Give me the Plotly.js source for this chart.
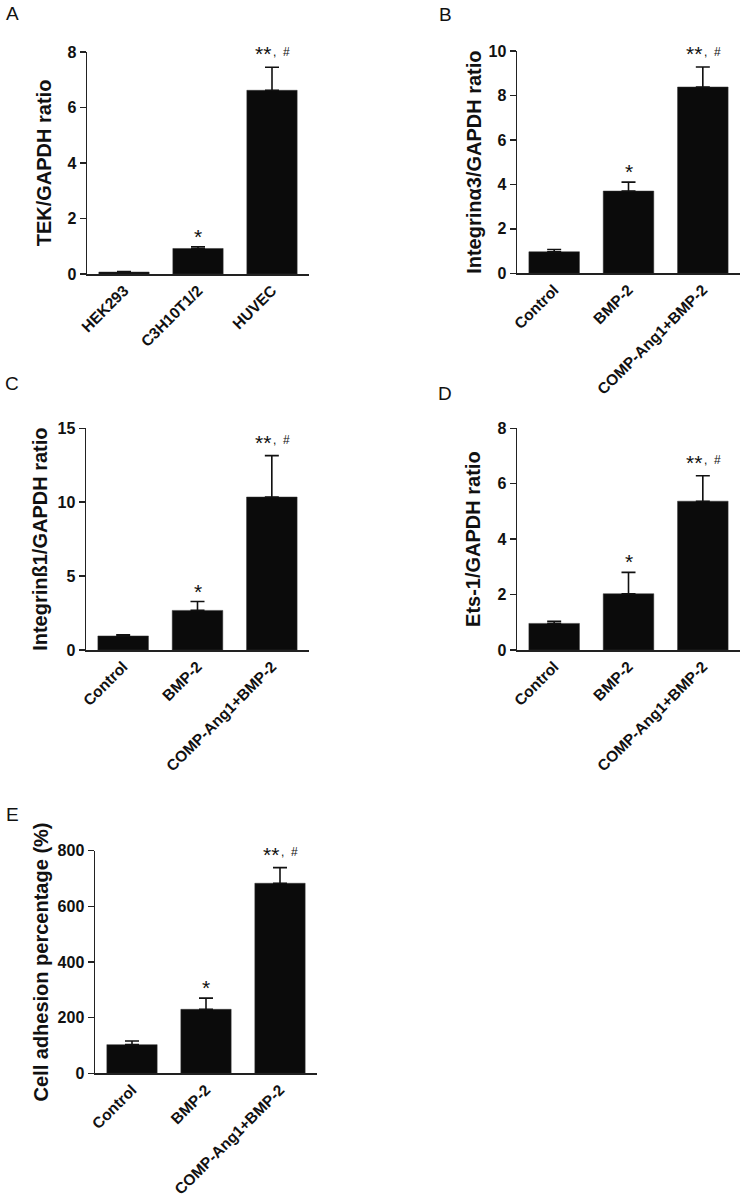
<!DOCTYPE html>
<html><head><meta charset="utf-8">
<script src="https://cdn.plot.ly/plotly-3.0.1.min.js"></script>
<style>html,body{margin:0;padding:0;background:#fff}</style>
</head><body><div id="chart" style="width:745px;height:1198px"></div>
<script>
// ---- data ----
const catsCells = ['HEK293', 'C3H10T1/2', 'HUVEC'];
const catsTreat = ['Control', 'BMP-2', 'COMP-Ang1+BMP-2'];
const tekMean = [0.07, 0.92, 6.62];
const tekErr = [0.02, 0.06, 0.83];
const itga3Mean = [0.97, 3.70, 8.38];
const itga3Err = [0.10, 0.40, 0.90];
const itgb1Mean = [0.95, 2.68, 10.35];
const itgb1Err = [0.08, 0.60, 2.80];
const ets1Mean = [0.96, 2.03, 5.37];
const ets1Err = [0.08, 0.77, 0.92];
const adhMean = [103, 230, 683];
const adhErr = [13, 40, 56];
const sigMain = ['', '*', '**'];
const sigExtra = ['', '', ',\u00a0\u00a0#'];
const panelLetters = ['A', 'B', 'C', 'D', 'E'];
const yTitles = ['TEK/GAPDH ratio', 'Integrinα3/GAPDH ratio', 'Integrinß1/GAPDH ratio', 'Ets-1/GAPDH ratio', 'Cell adhesion percentage (%)'];
const yMax = [8, 10, 15, 8, 800];
const yDtick = [2, 2, 5, 2, 200];

// ---- layout geometry (pixels) ----
const W = 745, H = 1198;
const panels = [
  {cats: catsCells, mean: tekMean, err: tekErr, px: [87, 309], py: [52, 274], letter: [12, 14], standoff: 10},
  {cats: catsTreat, mean: itga3Mean, err: itga3Err, px: [517, 740], py: [51, 273.3], letter: [445, 15], standoff: 1},
  {cats: catsTreat, mean: itgb1Mean, err: itgb1Err, px: [86, 309], py: [428.3, 650], letter: [12, 383], standoff: 4},
  {cats: catsTreat, mean: ets1Mean, err: ets1Err, px: [517, 740], py: [428.3, 650], letter: [445, 393], standoff: 11},
  {cats: catsTreat, mean: adhMean, err: adhErr, px: [95, 317], py: [850.7, 1073.3], letter: [12, 815], standoff: 3}
];

const FONT = 'Liberation Sans, Arial, Helvetica, sans-serif';
const data = [];
const layout = {
  width: W, height: H,
  margin: {l: 0, r: 0, t: 0, b: 0},
  paper_bgcolor: '#fff', plot_bgcolor: '#fff',
  showlegend: false,
  font: {family: FONT, color: '#111'},
  annotations: []
};

panels.forEach((p, i) => {
  const n = i + 1;
  const xa = n === 1 ? 'x' : 'x' + n;
  const ya = n === 1 ? 'y' : 'y' + n;
  data.push({
    type: 'bar', x: p.cats, y: p.mean, xaxis: xa, yaxis: ya,
    width: 0.68,
    marker: {color: '#0b0b0b', line: {color: '#333', width: 0.5}},
    error_y: {type: 'data', symmetric: false, array: p.err, arrayminus: p.err.map(() => 0),
      color: '#111', thickness: 1.6, width: 7},
    hoverinfo: 'skip'
  });
  const xk = n === 1 ? 'xaxis' : 'xaxis' + n;
  const yk = n === 1 ? 'yaxis' : 'yaxis' + n;
  layout[xk] = {
    domain: [p.px[0] / W, p.px[1] / W], anchor: ya,
    range: [-0.5, 2.5], showline: true, linecolor: '#222', linewidth: 1.5,
    ticks: '', tickangle: -45, showgrid: false, zeroline: false,
    tickfont: {family: FONT, size: 15.5, weight: 700, color: '#111'}
  };
  layout[yk] = {
    domain: [1 - p.py[1] / H, 1 - p.py[0] / H], anchor: xa,
    range: [0, yMax[i]], dtick: yDtick[i], showline: true, linecolor: '#222', linewidth: 1.5,
    ticks: 'outside', ticklen: 6, tickwidth: 1.5, tickcolor: '#222',
    showgrid: false, zeroline: false,
    tickfont: {family: FONT, size: 16, weight: 700, color: '#111'},
    title: {text: yTitles[i], standoff: p.standoff, font: {family: FONT, size: 20, weight: 700, color: '#111'}}
  };
  // significance marks
  p.cats.forEach((c, j) => {
    if (!sigMain[j]) return;
    const hasExtra = !!sigExtra[j];
    layout.annotations.push({
      xref: xa, yref: ya, x: c, y: p.mean[j] + p.err[j],
      text: sigMain[j], showarrow: false, yanchor: 'bottom',
      yshift: hasExtra ? 0 : -3, xshift: hasExtra ? -9 : 0,
      font: {family: FONT, size: 21, color: '#111'}
    });
    if (hasExtra) {
      layout.annotations.push({
        xref: xa, yref: ya, x: c, y: p.mean[j] + p.err[j],
        text: sigExtra[j], showarrow: false, yanchor: 'bottom',
        yshift: 6.5, xshift: 9.5,
        font: {family: FONT, size: 12, color: '#111'}
      });
    }
  });
  // panel letter
  layout.annotations.push({
    xref: 'paper', yref: 'paper', x: p.letter[0] / W, y: 1 - p.letter[1] / H,
    xanchor: 'center', yanchor: 'middle', text: panelLetters[i], showarrow: false,
    font: {family: FONT, size: 19, color: '#111'}
  });
});

Plotly.newPlot('chart', data, layout, {staticPlot: true, displayModeBar: false});
</script>
</body></html>
